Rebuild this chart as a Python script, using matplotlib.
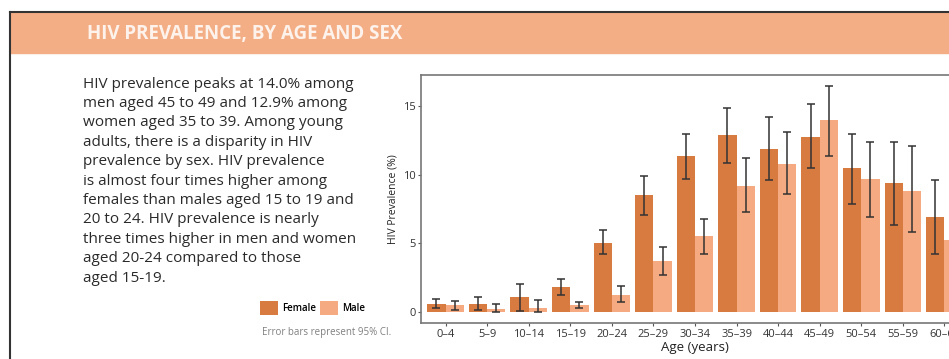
import matplotlib.pyplot as plt
import matplotlib as mpl
import numpy as np
from matplotlib.patches import Rectangle
from matplotlib.lines import Line2D

# HIV prevalence by age group and sex, with 95% CI
ages = ["0–4", "5–9", "10–14", "15–19", "20–24", "25–29", "30–34",
        "35–39", "40–44", "45–49", "50–54", "55–59", "60–64"]
female = [0.54, 0.55, 1.1, 1.8, 5.05, 8.5, 11.4, 12.9, 11.9, 12.8, 10.5, 9.4, 6.9]
female_lo = [0.25, 0.15, 0.05, 1.2, 4.2, 7.1, 9.7, 10.9, 9.6, 10.5, 7.9, 6.3, 4.2]
female_hi = [0.9, 1.05, 2.0, 2.4, 6.0, 9.9, 13.0, 14.9, 14.2, 15.2, 13.0, 12.4, 9.6]
male = [0.45, 0.22, 0.3, 0.5, 1.22, 3.7, 5.5, 9.2, 10.8, 14.0, 9.7, 8.85, 5.25]
male_lo = [0.15, 0.0, 0.0, 0.25, 0.7, 2.7, 4.2, 7.3, 8.6, 11.4, 6.95, 5.8, 3.15]
male_hi = [0.8, 0.55, 0.85, 0.7, 1.85, 4.7, 6.8, 11.2, 13.1, 16.5, 12.4, 12.1, 7.3]

title = "HIV PREVALENCE, BY AGE AND SEX"
blurb = [
    "HIV prevalence peaks at 14.0% among",
    "men aged 45 to 49 and 12.9% among",
    "women aged 35 to 39. Among young",
    "adults, there is a disparity in HIV",
    "prevalence by sex. HIV prevalence",
    "is almost four times higher among",
    "females than males aged 15 to 19 and",
    "20 to 24. HIV prevalence is nearly",
    "three times higher in men and women",
    "aged 20-24 compared to those",
    "aged 15-19.",
]

fem_col = "#D87B40"
male_col = "#F5AA82"
head_col = "#F4AE86"
W, H = 949, 359

mpl.rc('font', family=['Open Sans', 'DejaVu Sans'])
fig = plt.figure(figsize=(W / 100, H / 100), dpi=100)
fig.patch.set_facecolor("white")

def fx(px):
    return px / W

def fy(py):
    return 1 - py / H

# card frame and header band
fig.patches.append(Rectangle((fx(10), fy(53)), fx(W) - fx(10), fy(12) - fy(53),
                             transform=fig.transFigure, color=head_col, zorder=0))
fig.lines.append(Line2D([fx(10), 1], [fy(12), fy(12)], transform=fig.transFigure,
                        color="#333333", lw=1.5))
fig.lines.append(Line2D([fx(10), fx(10)], [fy(12), 0], transform=fig.transFigure,
                        color="#333333", lw=1.5))
fig.text(fx(87), fy(34), title, color="#FDF3EC", fontsize=13.5, fontweight="bold",
         va="center", ha="left")

for i, line in enumerate(blurb):
    fig.text(fx(83), fy(84 + i * 19.4), line, color="#2a2a2a", fontsize=11,
             fontweight="medium", va="center", ha="left")

# bar chart
ax = fig.add_axes([fx(421), fy(323), fx(969) - fx(421), fy(75) - fy(323)])
x = np.arange(len(ages))
w = 0.44
f = np.array(female)
m = np.array(male)
ferr = [f - np.array(female_lo), np.array(female_hi) - f]
merr = [m - np.array(male_lo), np.array(male_hi) - m]
bf = ax.bar(x - w / 2, f, w, color=fem_col, label="Female",
            yerr=ferr, ecolor="#333333", capsize=3,
            error_kw=dict(elinewidth=1.1, capthick=1.1))
bm = ax.bar(x + w / 2, m, w, color=male_col, label="Male",
            yerr=merr, ecolor="#333333", capsize=3,
            error_kw=dict(elinewidth=1.1, capthick=1.1))

ax.set_xlim(-0.59, len(ages) - 0.41)
ax.set_ylim(-0.83, 17.3)
ax.set_yticks([0, 5, 10, 15])
ax.set_xticks(x)
ax.set_xticklabels(ages)
ax.tick_params(axis="both", labelsize=8, colors="#555555", length=2.5, width=0.8)
ax.tick_params(axis="x", pad=1.5)
ax.tick_params(axis="y", pad=1.5)
for lab in ax.get_xticklabels() + ax.get_yticklabels():
    lab.set_color("#333333")
for s in ax.spines.values():
    s.set_color("#777777")
    s.set_linewidth(1.2)
ax.set_ylabel("HIV Prevalence (%)", fontsize=7.5, color="#222222", labelpad=3)
ax.set_xlabel("Age (years)", fontsize=9.5, color="#222222", labelpad=1,
              fontweight="medium")

fig.legend(handles=[bf, bm], labels=["Female", "Male"], loc="center left",
           bbox_to_anchor=(fx(260), fy(308)), ncol=2, frameon=False,
           handlelength=1.9, handleheight=1.9, handletextpad=0.35,
           columnspacing=0.4, borderpad=0, borderaxespad=0,
           prop=dict(weight="semibold", size=7))
fig.text(fx(262), fy(332), "Error bars represent 95% CI.", color="#808080",
         fontsize=7, va="center", ha="left")

fig.savefig("out.png", dpi=100)
